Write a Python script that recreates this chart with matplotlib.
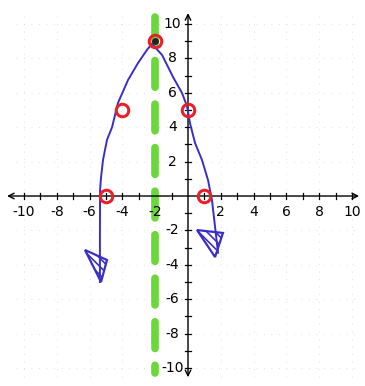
import matplotlib.pyplot as plt
import numpy as np
from matplotlib.patches import Polygon

# key points of y = -(x + 2)^2 + 9
pts_x = [-5, -4, -2, 0, 1]
pts_y = [0, 5, 9, 5, 0]

# hand-traced curve, left tip to right tip
curve_x = [-5.37, -5.37, -5.36, -5.3, -5.18, -4.94, -4.63, -4.27, -3.66, -3.05, -2.5,
           -2.2, -1.58, -0.9, -0.37, -0.05, 0.12, 0.43, 0.85, 1.22, 1.46, 1.65, 1.83]
curve_y = [-5.0, -2.15, 0.35, 1.1, 2.1, 3.26, 4.0, 5.41, 6.74, 7.73, 8.5,
           8.85, 8.2, 6.9, 6.0, 5.2, 4.24, 3.08, 2.1, 0.93, -0.23, -1.8, -3.3]

# arrowhead triangles at both ends of the curve
left_head = [(-6.28, -3.14), (-4.94, -3.72), (-5.3, -5.0)]
right_head = [(0.55, -1.98), (2.13, -2.15), (1.65, -3.55)]

axis_of_symmetry = -2
tick_vals = [-10, -8, -6, -4, -2, 2, 4, 6, 8, 10]

blue = "#3a2ec8"
red = "#e8202a"
green = "#6ad83a"

fig = plt.figure(figsize=(3.65, 3.86), dpi=100)
ax = fig.add_axes([0, 0, 1, 1])
ax.set_xlim(-11.46, 10.79)
ax.set_ylim(-11.05, 11.4)
ax.axis("off")

# faint dotted grid
for v in range(-10, 11, 2):
    ax.plot([v, v], [-10.5, 10.5], color="#d6d6d6", lw=0.6, ls=(0, (1, 8)), zorder=0)
    ax.plot([-10.5, 10.5], [v, v], color="#d6d6d6", lw=0.6, ls=(0, (1, 8)), zorder=0)

# axes with arrows
ax.annotate("", xy=(-11.2, 0), xytext=(10.6, 0),
            arrowprops=dict(arrowstyle="<->", color="black", lw=1.0, mutation_scale=10))
ax.annotate("", xy=(0, 10.8), xytext=(0, -10.7),
            arrowprops=dict(arrowstyle="<->", color="black", lw=1.0, mutation_scale=10))
for v in range(-10, 11):
    if v == 0:
        continue
    ax.plot([v, v], [-0.2, 0.2], color="black", lw=0.9)
    ax.plot([-0.2, 0.2], [v, v], color="black", lw=0.9)

for v in tick_vals:
    ax.text(v, -0.95, f"{v}", ha="center", va="center", fontsize=10)
    ax.text(-0.95, v, f"{v}", ha="center", va="center", fontsize=10)

# axis of symmetry
ax.plot([axis_of_symmetry, axis_of_symmetry], [10.4, -10.3], color=green, lw=5.5,
        ls=(0, (3.5, 2.2)), solid_capstyle="round", dash_capstyle="round", zorder=2)

# parabola
ax.plot(curve_x, curve_y, color=blue, lw=1.4, zorder=3, solid_joinstyle="round")
plt.rcParams["hatch.color"] = blue
plt.rcParams["hatch.linewidth"] = 1.2
for head in (left_head, right_head):
    ax.add_patch(Polygon(head, closed=True, fill=False, edgecolor=blue, lw=1.6,
                         hatch="\\\\\\\\", zorder=3))

# plotted points
ax.plot(pts_x, pts_y, "o", ms=9, mfc="none", mec=red, mew=2.2, zorder=4)
ax.plot(pts_x[2], pts_y[2], "o", ms=4, color="#222222", zorder=5)

fig.savefig("out.png", dpi=100)
